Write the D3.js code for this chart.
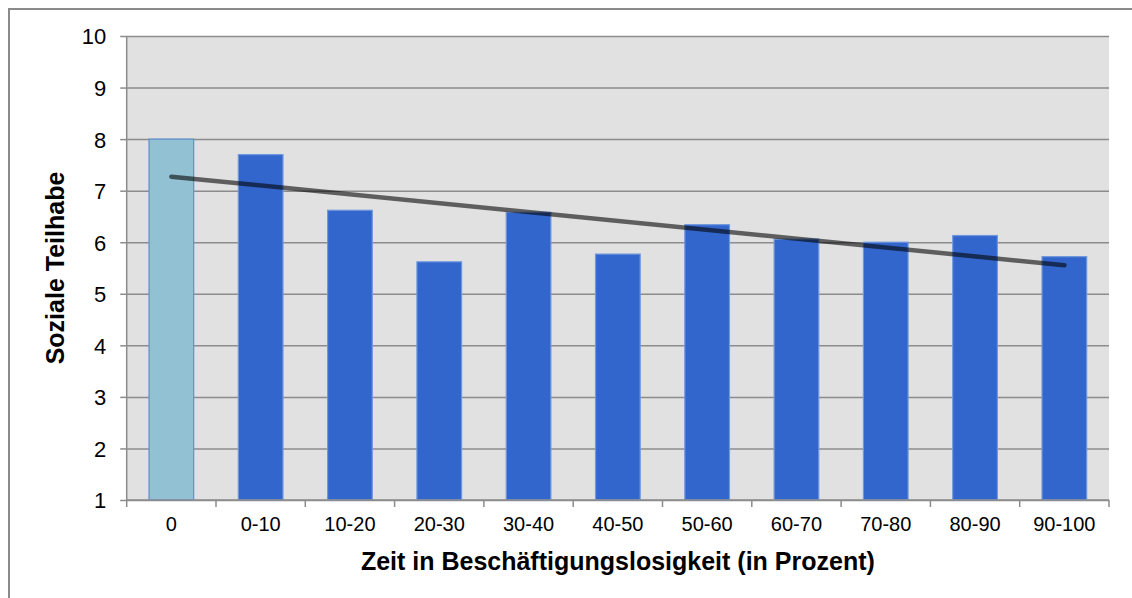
<!DOCTYPE html>
<html>
<head>
<meta charset="utf-8">
<script src="https://cdn.jsdelivr.net/npm/d3@7/dist/d3.min.js"></script>
<style>
  html, body { margin: 0; padding: 0; background: #ffffff; }
  svg { display: block; }
  text { font-family: "Liberation Sans", Arial, sans-serif; fill: #000; }
</style>
</head>
<body>
<svg id="chart" width="1132" height="598"></svg>
<script>
// ---- data ----
const categories = ["0", "0-10", "10-20", "20-30", "30-40", "40-50", "50-60", "60-70", "70-80", "80-90", "90-100"];
const values = [8.0, 7.7, 6.62, 5.62, 6.58, 5.77, 6.34, 6.06, 6.0, 6.13, 5.72];
const highlighted = ["0"];
const yTicks = [1, 2, 3, 4, 5, 6, 7, 8, 9, 10];
const yTitle = "Soziale Teilhabe";
const xTitle = "Zeit in Beschäftigungslosigkeit (in Prozent)";

// ---- layout ----
const W = 1132, H = 598;
const plot = { left: 126.7, right: 1109, top: 36, bottom: 500 };

const svg = d3.select("#chart");

// outer frame
svg.append("rect")
  .attr("x", 9).attr("y", 9)
  .attr("width", 1300).attr("height", 800)
  .attr("fill", "none").attr("stroke", "#8a8a8a").attr("stroke-width", 2);

const x = d3.scaleBand()
  .domain(categories)
  .range([plot.left, plot.right])
  .paddingInner(0.5)
  .paddingOuter(0.25);

const y = d3.scaleLinear()
  .domain([1, 10])
  .range([plot.bottom, plot.top]);

// plot background
svg.append("rect")
  .attr("x", plot.left).attr("y", plot.top)
  .attr("width", plot.right - plot.left).attr("height", plot.bottom - plot.top)
  .attr("fill", "#e1e1e1");

// gridlines + y axis
const yAxis = d3.axisLeft(y)
  .tickValues(yTicks)
  .tickSize(plot.right - plot.left)
  .tickFormat(d3.format("d"))
  .tickPadding(0);

const gy = svg.append("g")
  .attr("transform", `translate(${plot.right},0)`)
  .call(yAxis);
gy.select(".domain").remove();
gy.selectAll(".tick line")
  .attr("stroke", "#8c8c8c").attr("stroke-width", 1.5)
  .attr("x1", -(plot.right - plot.left) + 0)
  .attr("x2", 0);
// left tick marks
gy.selectAll(".tick").append("line")
  .attr("x1", -(plot.right - plot.left) - 6.5)
  .attr("x2", -(plot.right - plot.left))
  .attr("stroke", "#8c8c8c").attr("stroke-width", 1.5);
gy.selectAll(".tick text")
  .attr("x", -(plot.right - plot.left) - 20.5)
  .attr("dy", "0.36em")
  .attr("text-anchor", "end")
  .style("font-size", "22px")
  .style("font-family", "'Liberation Sans', Arial, sans-serif")
  .attr("fill", "#000");

// left axis line
svg.append("line")
  .attr("x1", plot.left).attr("x2", plot.left)
  .attr("y1", plot.top).attr("y2", plot.bottom + 0.5)
  .attr("stroke", "#8c8c8c").attr("stroke-width", 1.5);

// bars
svg.append("g").selectAll("rect")
  .data(categories.map((c, i) => ({ c, v: values[i] })))
  .join("rect")
  .attr("x", d => x(d.c))
  .attr("y", d => y(d.v))
  .attr("width", x.bandwidth())
  .attr("height", d => y(1) - y(d.v))
  .attr("fill", d => highlighted.includes(d.c) ? "#92c1d3" : "#3266cc")
  .attr("stroke", d => highlighted.includes(d.c) ? "#5f8fcf" : "#6e97dc")
  .attr("stroke-width", 1.2);

// bottom axis line
svg.append("line")
  .attr("x1", plot.left).attr("x2", plot.right)
  .attr("y1", plot.bottom).attr("y2", plot.bottom)
  .attr("stroke", "#8c8c8c").attr("stroke-width", 1.5);

// category boundary ticks
const step = x.step();
const gap = step - x.bandwidth();
const boundaries = categories.map(c => x(c) - gap / 2).concat([x(categories[categories.length - 1]) + x.bandwidth() + gap / 2]);
svg.append("g").selectAll("line")
  .data(boundaries)
  .join("line")
  .attr("x1", d => d).attr("x2", d => d)
  .attr("y1", plot.bottom).attr("y2", plot.bottom + 7)
  .attr("stroke", "#8c8c8c").attr("stroke-width", 1.5);

// x labels
const xAxis = d3.axisBottom(x).tickSize(0).tickPadding(0);
const gx = svg.append("g")
  .attr("transform", `translate(0,${plot.bottom})`)
  .call(xAxis);
gx.select(".domain").remove();
gx.selectAll(".tick text")
  .attr("y", 31)
  .attr("dy", 0)
  .style("font-size", "20px")
  .style("font-family", "'Liberation Sans', Arial, sans-serif")
  .attr("fill", "#000");

// linear trend line (least squares over category index)
const n = values.length;
const idx = d3.range(n);
const mx = d3.mean(idx), my = d3.mean(values);
const slope = d3.sum(idx, i => (i - mx) * (values[i] - my)) / d3.sum(idx, i => (i - mx) ** 2);
const intercept = my - slope * mx;
const trend = [0, n - 1].map(i => ({ c: categories[i], v: intercept + slope * i }));
svg.append("path")
  .datum(trend)
  .attr("d", d3.line().x(d => x(d.c) + x.bandwidth() / 2).y(d => y(d.v)))
  .attr("fill", "none")
  .attr("stroke", "#000")
  .attr("stroke-opacity", 0.58)
  .attr("stroke-width", 4.5)
  .attr("stroke-linecap", "round");

// axis titles
svg.append("text")
  .attr("x", (plot.left + plot.right) / 2)
  .attr("y", 570)
  .attr("text-anchor", "middle")
  .style("font-size", "25px")
  .style("font-weight", "bold")
  .text(xTitle);

svg.append("text")
  .attr("transform", `translate(64,${(plot.top + plot.bottom) / 2}) rotate(-90)`)
  .attr("text-anchor", "middle")
  .style("font-size", "25px")
  .style("font-weight", "bold")
  .text(yTitle);
</script>
</body>
</html>
